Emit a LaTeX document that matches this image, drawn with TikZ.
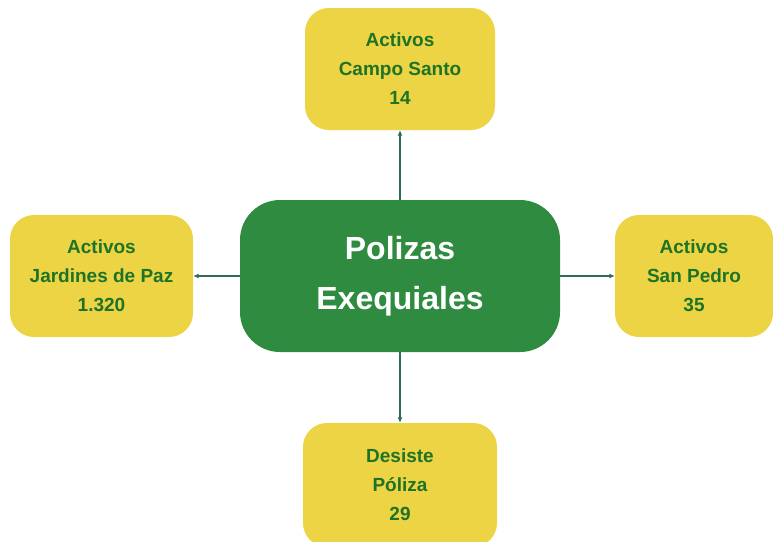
\documentclass[tikz,border=0pt]{standalone}
\usepackage{fontspec}
\setmainfont{Liberation Sans}
\usetikzlibrary{arrows.meta}
\definecolor{ybox}{HTML}{EDD444}
\definecolor{gbox}{HTML}{2E8B40}
\definecolor{gtext}{HTML}{1E7326}
\definecolor{arr}{HTML}{2F6A5E}
\tikzset{
  ynode/.style={fill=ybox, rounded corners=24pt, text=gtext, font=\bfseries\fontsize{19}{29}\selectfont, align=center, inner sep=0pt, minimum height=122pt},
  cnode/.style={fill=gbox, rounded corners=40pt, text=white, font=\bfseries\fontsize{32}{50}\selectfont, align=center, inner sep=0pt, minimum width=320pt, minimum height=152pt},
  conn/.style={draw=arr, line width=1.3pt, -{Latex[length=5.5pt,width=5pt]}}
}
\begin{document}
\begin{tikzpicture}[x=1pt,y=-1pt]
\useasboundingbox (0,0) rectangle (773,541);
\clip (0,0) rectangle (773,541);
\fill[white] (0,0) rectangle (773,541);
\node[cnode] (c) at (400,276) {Polizas\\Exequiales};
\node[ynode, minimum width=190pt] (t) at (400,69) {Activos\\Campo Santo\\14};
\node[ynode, minimum width=183pt] (l) at (101.5,276) {Activos\\Jardines de Paz\\1.320};
\node[ynode, minimum width=158pt] (r) at (694,276) {Activos\\San Pedro\\35};
\node[ynode, minimum width=194pt, minimum height=124pt] (b) at (400,485) {Desiste\\Póliza\\29};
\draw[conn] (c.north) -- (t.south);
\draw[conn] (c.west) -- (l.east);
\draw[conn] (c.east) -- (r.west);
\draw[conn] (c.south) -- (b.north);
\end{tikzpicture}
\end{document}
